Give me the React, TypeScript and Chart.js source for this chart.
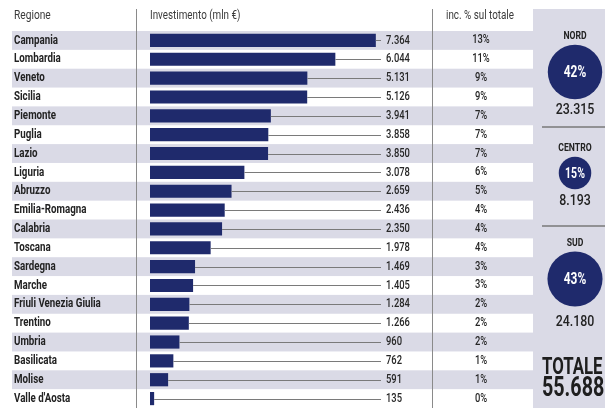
import React, { useEffect, useRef } from "react";
import { Chart, registerables } from "chart.js";

Chart.register(...registerables);

const regions = [
  "Campania", "Lombardia", "Veneto", "Sicilia", "Piemonte", "Puglia", "Lazio",
  "Liguria", "Abruzzo", "Emilia-Romagna", "Calabria", "Toscana", "Sardegna",
  "Marche", "Friuli Venezia Giulia", "Trentino", "Umbria", "Basilicata",
  "Molise", "Valle d'Aosta",
];
const investments = [
  7364, 6044, 5131, 5126, 3941, 3858, 3850, 3078, 2659, 2436, 2350, 1978,
  1469, 1405, 1284, 1266, 960, 762, 591, 135,
];
const shares = [13, 11, 9, 9, 7, 7, 7, 6, 5, 4, 4, 4, 3, 3, 2, 2, 2, 1, 1, 0];

const areaNames = ["NORD", "CENTRO", "SUD"];
const areaShares = [42, 15, 43];
const areaTotals = [23315, 8193, 24180];
const grandTotal = 55688;

const headers = ["Regione", "Investimento (mln €)", "inc. % sul totale"];

const NAVY = "#1f2a6c";
const BAND = "#dadae6";
const FONT = "Roboto";

const fmt = (n: number) => String(n).replace(/\B(?=(\d{3})+(?!\d))/g, ".");

function txt(
  ctx: CanvasRenderingContext2D,
  s: string,
  x: number,
  y: number,
  size: number,
  weight: string,
  color: string,
  align: CanvasTextAlign,
  sx: number
) {
  ctx.save();
  ctx.font = `${weight} ${size}px ${FONT}`;
  ctx.fillStyle = color;
  ctx.textBaseline = "middle";
  ctx.textAlign = align;
  ctx.translate(x, y);
  ctx.scale(sx, 1);
  ctx.fillText(s, 0, 0);
  ctx.restore();
}

const infographic = {
  id: "infographic",
  beforeDraw(chart: any) {
    const ctx: CanvasRenderingContext2D = chart.ctx;
    const y = chart.scales.y;
    const W = chart.width;
    const H = chart.height;
    ctx.save();
    ctx.fillStyle = "#ffffff";
    ctx.fillRect(0, 0, W, H);
    const h = (y.bottom - y.top) / regions.length;
    ctx.fillStyle = BAND;
    regions.forEach((_, i) => {
      if (i % 2 === 0) {
        const cy = y.getPixelForValue(i);
        ctx.fillRect(12, cy - h / 2, W - 12, h);
      }
    });
    // right panel
    ctx.fillRect(533, 9, W - 533, H - 9);
    // separators
    ctx.strokeStyle = "#8a8a8a";
    ctx.lineWidth = 1;
    ctx.beginPath();
    ctx.moveTo(136.5, 9);
    ctx.lineTo(136.5, H);
    ctx.moveTo(432.5, 9);
    ctx.lineTo(432.5, H);
    ctx.stroke();
    ctx.restore();
  },
  afterDatasetsDraw(chart: any) {
    const ctx: CanvasRenderingContext2D = chart.ctx;
    const x = chart.scales.x;
    const y = chart.scales.y;
    const area = chart.chartArea;
    // header
    txt(ctx, headers[0], 14, 16, 12, "400", "#3a3a3a", "left", 0.85);
    txt(ctx, headers[1], 150, 16, 12, "400", "#3a3a3a", "left", 0.82);
    txt(ctx, headers[2], 480, 16, 12, "400", "#3a3a3a", "center", 0.82);

    ctx.save();
    ctx.strokeStyle = "#7a7a7a";
    ctx.lineWidth = 1;
    regions.forEach((r, i) => {
      const cy = y.getPixelForValue(i);
      const xe = x.getPixelForValue(investments[i]);
      ctx.beginPath();
      ctx.moveTo(xe, Math.round(cy) + 0.5);
      ctx.lineTo(area.right + 1, Math.round(cy) + 0.5);
      ctx.stroke();
      txt(ctx, r, 14, cy, 12.5, "700", "#222222", "left", 0.78);
      txt(ctx, fmt(investments[i]), 386, cy, 12.5, "500", "#262626", "left", 0.75);
      txt(ctx, shares[i] + "%", 481, cy, 12, "500", "#262626", "center", 0.78);
    });
    ctx.restore();

    // panel
    const cx = 575;
    const labelY = [36, 148, 243];
    const circY = [72, 173, 279];
    const valY = [110, 201, 322];
    const pctSize = [17, 15, 17];
    areaNames.forEach((n, i) => {
      const r = 4.2 * Math.sqrt(areaShares[i]);
      txt(ctx, n, cx, labelY[i], 11.5, "700", "#222222", "center", 0.75);
      ctx.save();
      ctx.fillStyle = NAVY;
      ctx.beginPath();
      ctx.arc(cx, circY[i], r, 0, Math.PI * 2);
      ctx.fill();
      ctx.restore();
      txt(ctx, areaShares[i] + "%", cx, circY[i] + 1, pctSize[i], "700", "#ffffff", "center", 0.7);
      txt(ctx, fmt(areaTotals[i]), cx, valY[i], 15.5, "500", "#222222", "center", 0.8);
    });
    ctx.save();
    ctx.strokeStyle = "#7a7a7a";
    ctx.lineWidth = 1.5;
    ctx.beginPath();
    ctx.moveTo(542, 127);
    ctx.lineTo(605, 127);
    ctx.moveTo(542, 226);
    ctx.lineTo(605, 226);
    ctx.stroke();
    ctx.restore();
    txt(ctx, "TOTALE", 542, 368, 23, "700", "#1e1e1e", "left", 0.73);
    txt(ctx, fmt(grandTotal), 542, 389, 27, "700", "#1e1e1e", "left", 0.73);
  },
};

export default function App() {
  const ref = useRef<HTMLCanvasElement>(null);
  useEffect(() => {
    if (!ref.current) return;
    const chart = new Chart(ref.current, {
      type: "bar",
      data: {
        labels: regions,
        datasets: [
          {
            data: investments,
            backgroundColor: NAVY,
            borderWidth: 0,
            barPercentage: 0.7,
            categoryPercentage: 1,
          },
        ],
      },
      options: {
        indexAxis: "y",
        responsive: false,
        animation: false,
        layout: { padding: { left: 150, right: 225, top: 31, bottom: 0 } },
        scales: {
          x: { display: false, min: 0, max: 7500 },
          y: { display: false },
        },
        plugins: { legend: { display: false }, tooltip: { enabled: false } },
      },
      plugins: [infographic],
    } as any);
    return () => chart.destroy();
  }, []);
  return (
    <div style={{ position: "fixed", left: 0, top: 0, width: 605, height: 408 }}>
      <canvas ref={ref} width={605} height={408} style={{ width: 605, height: 408 }} />
    </div>
  );
}
